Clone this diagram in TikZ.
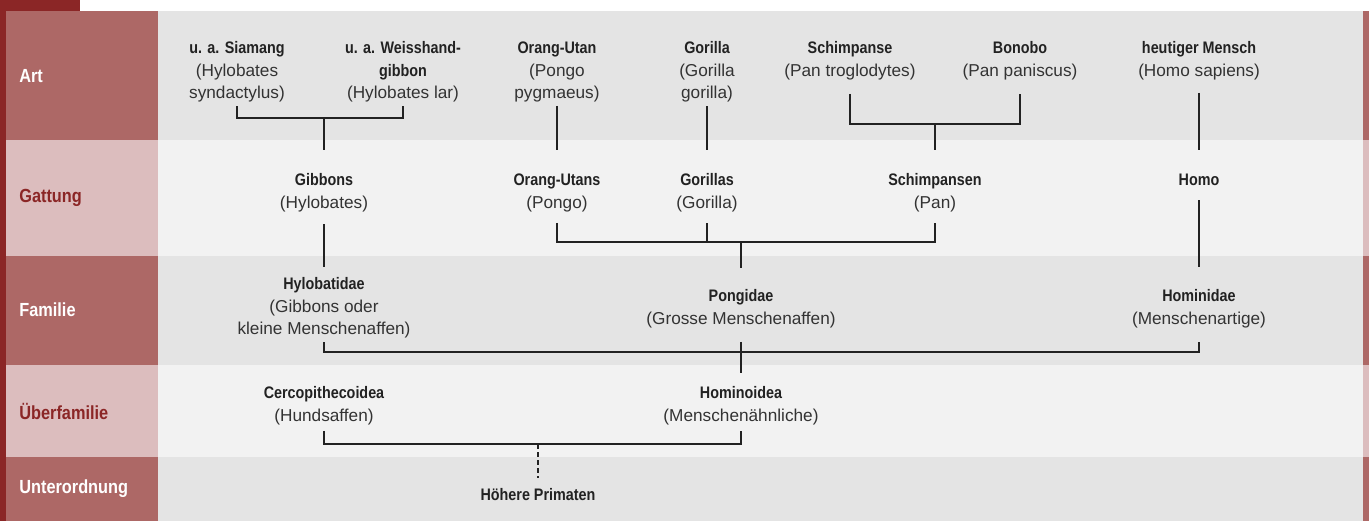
\documentclass[tikz,border=0pt]{standalone}
\usepackage{fontspec}
\setmainfont{Liberation Sans}
\newfontfamily\condfont[FakeStretch=0.86]{Liberation Sans}
\usetikzlibrary{positioning}

\definecolor{darkred}{HTML}{8B2626}
\definecolor{midred}{HTML}{AD6866}
\definecolor{palered}{HTML}{DCBDBE}
\definecolor{rowgray}{HTML}{E4E4E4}
\definecolor{rowlight}{HTML}{F2F2F2}
\definecolor{ink}{HTML}{222222}
\definecolor{inklight}{HTML}{333333}

\newcommand{\hd}[1]{{\condfont\bfseries\fontsize{9.5}{12.8}\selectfont\color{ink}#1}}

\begin{document}
\begin{tikzpicture}[x=0.02cm, y=-0.02cm,
  taxon/.style={anchor=north, align=center, inner sep=2pt, text=inklight,
    font=\fontsize{9.8}{12.8}\selectfont},
  rowlabel/.style={anchor=west, inner sep=0pt,
    font=\condfont\bfseries\fontsize{10.8}{13}\selectfont},
  link/.style={draw=ink, line width=1.4pt}]
  \useasboundingbox (0,0) rectangle (1369,521);
  \fill[white] (0,0) rectangle (1369,521);
  \foreach \ytop/\ybot/\lab/\bg in {11/140/midred/rowgray, 140/256/palered/rowlight,
      256/365/midred/rowgray, 365/457/palered/rowlight, 457/521/midred/rowgray} {
    \fill[\lab] (6,\ytop) rectangle (158,\ybot);
    \fill[\bg] (158,\ytop) rectangle (1363,\ybot);
    \fill[\lab] (1363,\ytop) rectangle (1369,\ybot);
  }
  \fill[darkred] (0,0) rectangle (80,11);
  \fill[darkred] (0,0) rectangle (6,521);

  \node[rowlabel, text=white] (art) at (19,76) {Art};
  \node[rowlabel, text=darkred] (gattung) at (19,198) {Gattung};
  \node[rowlabel, text=white] (familie) at (19,310) {Familie};
  \node[rowlabel, text=darkred] (ueberfamilie) at (19,411) {Überfamilie};
  \node[rowlabel, text=white] (unterordnung) at (19,489) {Unterordnung};

  \node[taxon] (siamang) at (237,38) {\hd{u. a. Siamang}\\(Hylobates\\syndactylus)};
  \node[taxon] (lar) at (403,38) {\hd{u. a. Weisshand-}\\\hd{gibbon}\\(Hylobates lar)};
  \node[taxon] (orangutan) at (557,38) {\hd{Orang-Utan}\\(Pongo\\pygmaeus)};
  \node[taxon] (gorilla) at (707,38) {\hd{Gorilla}\\(Gorilla\\gorilla)};
  \node[taxon] (schimpanse) at (850,38) {\hd{Schimpanse}\\(Pan troglodytes)};
  \node[taxon] (bonobo) at (1020,38) {\hd{Bonobo}\\(Pan paniscus)};
  \node[taxon] (mensch) at (1199,38) {\hd{heutiger Mensch}\\(Homo sapiens)};

  \node[taxon] (gibbons) at (324,170) {\hd{Gibbons}\\(Hylobates)};
  \node[taxon] (orangutans) at (557,170) {\hd{Orang-Utans}\\(Pongo)};
  \node[taxon] (gorillas) at (707,170) {\hd{Gorillas}\\(Gorilla)};
  \node[taxon] (schimpansen) at (935,170) {\hd{Schimpansen}\\(Pan)};
  \node[taxon] (homo) at (1199,170) {\hd{Homo}};

  \node[taxon] (hylobatidae) at (324,274) {\hd{Hylobatidae}\\(Gibbons oder\\kleine Menschenaffen)};
  \node[taxon] (pongidae) at (741,286) {\hd{Pongidae}\\(Grosse Menschenaffen)};
  \node[taxon] (hominidae) at (1199,286) {\hd{Hominidae}\\(Menschenartige)};

  \node[taxon] (cercopith) at (324,383) {\hd{Cercopithecoidea}\\(Hundsaffen)};
  \node[taxon] (hominoidea) at (741,383) {\hd{Hominoidea}\\(Menschenähnliche)};

  \node[taxon] (primaten) at (538,485) {\hd{Höhere Primaten}};

  \coordinate (gib-j) at (324,118);
  \coordinate (pan-j) at (935,124);
  \coordinate (pong-j) at (741,242);
  \coordinate (fam-j) at (741,352);
  \coordinate (sup-j) at (538,444);

  \draw[link] (siamang.south) |- (gib-j) -| (lar.south);
  \draw[link] (gib-j) -- ([yshift=0.4cm]gibbons.north);
  \draw[link] (orangutan.south) -- ([yshift=0.4cm]orangutans.north);
  \draw[link] (gorilla.south) -- ([yshift=0.4cm]gorillas.north);
  \draw[link, shorten <=0.2cm, shorten >=0.2cm] (schimpanse.south) |- (pan-j) -| (bonobo.south);
  \draw[link] (pan-j) -- ([yshift=0.4cm]schimpansen.north);
  \draw[link, shorten <=0.18cm] (mensch.south) -- ([yshift=0.4cm]homo.north);

  \draw[link, shorten <=0.17cm] (gibbons.south) -- ([yshift=0.14cm]hylobatidae.north);
  \draw[link, shorten <=0.15cm, shorten >=0.15cm] (orangutans.south) |- (pong-j) -| (schimpansen.south);
  \draw[link, shorten <=0.15cm] (gorillas.south) -- (gorillas.south |- pong-j);
  \draw[link] (pong-j) -- ([yshift=0.37cm]pongidae.north);
  \draw[link, shorten <=0.22cm] (homo.south) -- ([yshift=0.38cm]hominidae.north);

  \draw[link, shorten >=0.2cm] (hylobatidae.south) |- (fam-j) -| (hominidae.south);
  \draw[link, shorten <=0.2cm] (pongidae.south) -- ([yshift=0.21cm]hominoidea.north);

  \draw[link, shorten <=0.04cm, shorten >=0.04cm] (cercopith.south) |- (sup-j) -| (hominoidea.south);
  \draw[link, dash pattern=on 0.1cm off 0.06cm] (sup-j) -- ([yshift=0.15cm]primaten.north);
\end{tikzpicture}
\end{document}
